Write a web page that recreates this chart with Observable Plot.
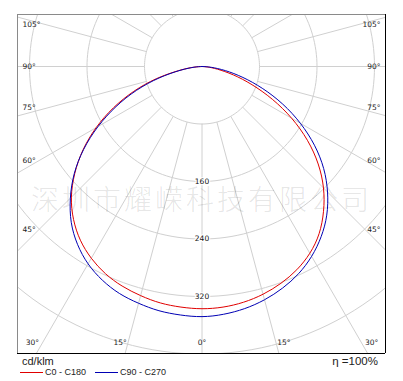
<!DOCTYPE html>
<html><head><meta charset="utf-8">
<script src="https://cdn.jsdelivr.net/npm/d3@7"></script>
<script src="https://cdn.jsdelivr.net/npm/@observablehq/plot@0.6"></script>
<style>
body{margin:0;background:#fff;font-family:"Liberation Sans",Arial,sans-serif;}
#wrap{position:relative;width:403px;height:381px;overflow:hidden;}
#wrap svg{position:absolute;left:0;top:0;}
.lg{position:absolute;white-space:nowrap;color:#222;}
.sw{position:absolute;height:0;border-top:1px solid;}
</style></head><body><div id="wrap"></div>
<script>
// gamma angles (degrees from nadir) and intensities in cd/klm
const gammas = [0,5,10,15,20,25,30,35,40,45,50,55,60,65,70,75,80,85,90];
const c0   = [337,336,333,328,321,312,300,284,263,239,211,179,144,108,74,45,22,8,0];
const c180 = [337,336,334,330,325,318,308,295,278,257,231,202,170,136,101,66,33,12,0];
const c90  = [348,346,342,336,328,318,305,289,270,247,221,191,158,124,90,59,33,13,0];
const c270 = [348,347,345,341,336,328,317,302,283,259,232,201,167,132,97,62,31,11,0];
const seriesNames = ["C0 - C180", "C90 - C270"];
const seriesColors = ["#e00000", "#0000b4"];
const ringValues = [80,160,240,320,400,480];
const ringLabels = [160,240,320];
const rayAngles = d3.range(0,360,15);
const angleLabels = [0,15,30,45,60,75,90,105];
const unitLabel = "cd/klm";
const etaLabel = "η =100%";
const watermark = "深圳市耀嵘科技有限公司";

const rad = Math.PI/180;
const xDomain = [-256.7, 255.3];
const yDomain = [-72.35, 399.3];

function curve(name, left, right) {
  const pts = [];
  for (let i = gammas.length-1; i >= 0; i--) pts.push({name, x: -left[i]*Math.sin(gammas[i]*rad), y: left[i]*Math.cos(gammas[i]*rad)});
  for (let i = 1; i < gammas.length; i++) pts.push({name, x: right[i]*Math.sin(gammas[i]*rad), y: right[i]*Math.cos(gammas[i]*rad)});
  return pts;
}
const redPts = curve(seriesNames[0], c180, c0);
const bluePts = curve(seriesNames[1], c270, c90);

const ringPts = ringValues.flatMap(r => d3.range(0, 362, 2).map(a => ({r, x: r*Math.sin(a*rad), y: r*Math.cos(a*rad)})));

// label angle slightly pulled toward horizontal, like the source
const shifted = t => t === 0 || t === 90 ? t : (t < 90 ? t + 1.4 : t - 1.4);
const sideCol = 239, bottomRow = 386.8;
const sideLabels = angleLabels.filter(t => t >= 45).flatMap(t => [
  {t, side: -1, y: sideCol / Math.tan(shifted(t)*rad)},
  {t, side: 1, y: sideCol / Math.tan(shifted(t)*rad)}
]);
const bottomLabels = angleLabels.filter(t => t <= 30).flatMap(t => t === 0 ? [{t, x: 0}] : [
  {t, x: -bottomRow*Math.tan(shifted(t)*rad)}, {t, x: bottomRow*Math.tan(shifted(t)*rad)}
]);

const grid = "#d0d0d0";
const lblFont = "DejaVu Sans, sans-serif";

const svg = Plot.plot({
  width: 403, height: 355,
  marginLeft: 17, marginRight: 18, marginTop: 14, marginBottom: 2,
  x: {domain: xDomain, axis: null},
  y: {domain: yDomain, reverse: true, axis: null},
  style: {background: "#fff"},
  marks: [
    Plot.line(ringPts, {x: "x", y: "y", z: "r", stroke: grid, strokeWidth: 1, clip: true}),
    Plot.link(rayAngles, {x1: a => 80*Math.sin(a*rad), y1: a => 80*Math.cos(a*rad), x2: a => 700*Math.sin(a*rad), y2: a => 700*Math.cos(a*rad), stroke: grid, strokeWidth: 1, clip: true}),
    Plot.text([watermark], {frameAnchor: "middle", dy: 17, text: d => d, fontSize: 28, fontFamily: "Noto Sans CJK SC", fontWeight: 300, fill: "#000", fillOpacity: 0.11}),
    Plot.text(ringLabels, {x: 0, y: d => d, text: d => String(d), fontSize: 7.5, fontFamily: lblFont, fill: "#111", stroke: "#fff", strokeWidth: 2.5}),
    Plot.text(sideLabels.filter(d => d.side < 0), {frameAnchor: "left", y: "y", dx: 5, text: d => d.t + "°", textAnchor: "start", fontSize: 7.5, fontFamily: lblFont, fill: "#222"}),
    Plot.text(sideLabels.filter(d => d.side > 0), {frameAnchor: "right", y: "y", dx: -5, text: d => d.t + "°", textAnchor: "end", fontSize: 7.5, fontFamily: lblFont, fill: "#222"}),
    Plot.text(bottomLabels, {frameAnchor: "bottom", x: "x", dy: -9, text: d => d.t + "°", fontSize: 7.5, fontFamily: lblFont, fill: "#222"}),
    Plot.line(redPts, {x: "x", y: "y", stroke: seriesColors[0], strokeWidth: 1, curve: "natural", clip: true}),
    Plot.line(bluePts, {x: "x", y: "y", stroke: seriesColors[1], strokeWidth: 1, curve: "natural", clip: true}),
    Plot.ruleX([xDomain[0]], {stroke: "#8a8a8a"}),
    Plot.ruleY([yDomain[0]], {stroke: "#8a8a8a"}),
    Plot.ruleX([xDomain[1]], {stroke: "#000"}),
    Plot.ruleY([yDomain[1]], {stroke: "#000"})
  ]
});
svg.querySelectorAll("text").forEach(t => { if (t.textContent === watermark) t.setAttribute("letter-spacing", "3"); });
const wrap = document.getElementById("wrap");
wrap.appendChild(svg);

function add(html) { wrap.insertAdjacentHTML("beforeend", html); }
add(`<div class="lg" style="left:22px;top:355px;font-size:11px;">${unitLabel}</div>`);
add(`<div class="lg" style="right:25px;top:355px;font-size:11.5px;">${etaLabel}</div>`);
add(`<div class="sw" style="left:20px;top:372px;width:23px;border-color:${seriesColors[0]}"></div>`);
add(`<div class="lg" style="left:45px;top:367px;font-size:9px;">${seriesNames[0]}</div>`);
add(`<div class="sw" style="left:95px;top:372px;width:23px;border-color:${seriesColors[1]}"></div>`);
add(`<div class="lg" style="left:120px;top:367px;font-size:9px;">${seriesNames[1]}</div>`);
</script></body></html>
